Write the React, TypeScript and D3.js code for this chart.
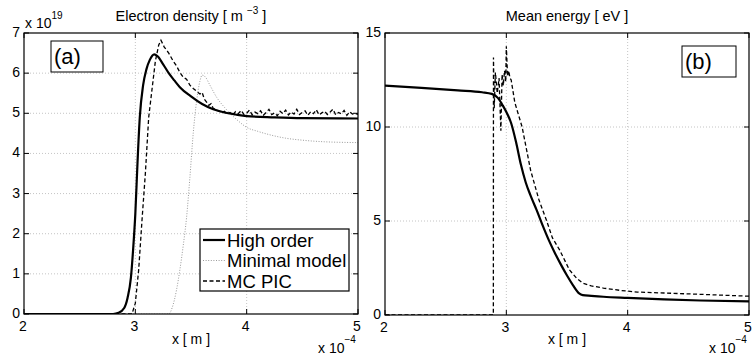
import * as d3 from 'd3';

type Pt = [number, number];

// ---- panel (a): electron density, units of 1e19 m^-3, x in 1e-4 m
const densHigh: Pt[] = [
  [2, 0], [2.8, 0], [2.85, 0.03], [2.9, 0.15], [2.93, 0.4], [2.96, 0.9], [2.98, 1.6],
  [3.0, 2.5], [3.02, 3.8], [3.04, 4.9], [3.07, 5.7], [3.1, 6.1], [3.13, 6.33], [3.17, 6.47],
  [3.2, 6.42], [3.25, 6.22], [3.3, 6.0], [3.35, 5.82], [3.4, 5.65], [3.5, 5.42], [3.6, 5.23],
  [3.7, 5.1], [3.8, 5.02], [3.9, 4.97], [4.0, 4.93], [4.25, 4.9], [4.5, 4.88], [5, 4.87],
];

const densMinimal: Pt[] = [
  [2, 0], [3.3, 0], [3.33, 0.15], [3.37, 0.6], [3.4, 1.1], [3.43, 1.7], [3.46, 2.4],
  [3.49, 3.4], [3.52, 4.5], [3.55, 5.3], [3.58, 5.8], [3.6, 5.95], [3.63, 5.9], [3.67, 5.7],
  [3.73, 5.4], [3.8, 5.15], [3.85, 5.0], [3.92, 4.82], [4.0, 4.65], [4.1, 4.55], [4.2, 4.47],
  [4.35, 4.38], [4.5, 4.33], [4.7, 4.29], [5, 4.27],
];

const densPic: Pt[] = [
  [2, 0], [2.97, 0], [3.0, 0.27], [3.03, 1.1], [3.06, 2.34], [3.09, 3.5], [3.12, 4.9],
  [3.15, 5.6], [3.18, 6.3], [3.21, 6.7], [3.23, 6.82], [3.26, 6.65], [3.3, 6.5], [3.34, 6.3],
  [3.37, 6.18], [3.4, 6.02], [3.43, 5.9], [3.46, 5.85], [3.49, 5.7], [3.52, 5.62], [3.55, 5.55],
  [3.58, 5.48], [3.6, 5.52], [3.62, 5.35], [3.64, 5.28], [3.66, 5.2], [3.68, 5.24], [3.7, 5.12],
  [3.72, 5.1], [3.75, 5.05], [3.78, 5.02],
  [3.8, 5.05], [3.825, 4.98], [3.85, 5.02], [3.875, 4.96], [3.9, 5.04], [3.925, 4.99],
  [3.95, 5.07], [3.975, 4.97], [4.0, 5.0], [4.025, 5.08], [4.05, 4.96], [4.075, 5.03],
  [4.1, 4.99], [4.125, 5.06], [4.15, 4.95], [4.175, 5.02], [4.2, 5.1], [4.225, 4.97],
  [4.25, 5.01], [4.275, 4.94], [4.3, 5.05], [4.325, 4.99], [4.35, 5.08], [4.375, 4.96],
  [4.4, 5.03], [4.425, 4.98], [4.45, 5.1], [4.475, 4.97], [4.5, 5.02], [4.525, 5.06],
  [4.55, 4.95], [4.575, 5.04], [4.6, 4.99], [4.625, 5.09], [4.65, 4.96], [4.675, 5.01],
  [4.7, 5.05], [4.725, 4.97], [4.75, 5.03], [4.775, 5.1], [4.8, 4.96], [4.825, 5.02],
  [4.85, 4.99], [4.875, 5.07], [4.9, 4.95], [4.925, 5.04], [4.95, 4.98], [4.975, 5.0],
  [5.0, 4.97],
];

// ---- panel (b): mean energy, eV
const energyHigh: Pt[] = [
  [2, 12.2], [2.3, 12.08], [2.6, 11.95], [2.8, 11.85], [2.88, 11.76], [2.93, 11.55],
  [2.97, 11.15], [3.0, 10.8], [3.04, 10.2], [3.08, 9.2], [3.12, 8.0], [3.16, 7.05], [3.2, 6.35],
  [3.25, 5.58], [3.3, 4.75], [3.35, 3.98], [3.4, 3.3], [3.45, 2.68], [3.5, 2.1], [3.55, 1.58],
  [3.6, 1.15], [3.63, 1.06], [3.7, 1.02], [3.8, 0.97], [4.0, 0.91], [4.3, 0.83], [4.6, 0.77],
  [5, 0.72],
];

const energyPic: Pt[] = [
  [2, 0], [2.893, 0], [2.894, 13.7], [2.9, 11.0], [2.91, 12.9], [2.925, 11.8], [2.94, 12.6],
  [2.955, 9.8], [2.965, 12.8], [2.975, 12.2], [2.985, 13.0], [2.995, 12.4], [3.0, 14.3],
  [3.01, 12.7], [3.02, 13.0], [3.03, 12.6], [3.04, 12.5], [3.07, 11.3], [3.13, 10.0],
  [3.2, 7.7], [3.27, 6.1], [3.33, 5.05], [3.38, 4.1], [3.44, 3.45], [3.52, 2.4],
  [3.58, 1.95], [3.63, 1.7], [3.7, 1.55], [3.8, 1.43], [3.95, 1.3], [4.08, 1.22],
  [4.3, 1.17], [4.6, 1.1], [5, 1.0],
];

const xTicks = [2, 3, 4, 5];
const densTicks = [0, 1, 2, 3, 4, 5, 6, 7];
const energyTicks = [0, 5, 10, 15];
const legendLabels = ['High order', 'Minimal model', 'MC PIC'];

const FONT = '"Liberation Sans", Arial, Helvetica, sans-serif';

type LineStyle = { stroke: string; strokeWidth: number; dash?: string; smooth?: boolean };
const styles: Record<string, LineStyle> = {
  high: { stroke: '#000', strokeWidth: 2.2, smooth: true },
  minimal: { stroke: '#9a9a9a', strokeWidth: 1, dash: '1,1.6', smooth: true },
  pic: { stroke: '#000', strokeWidth: 1.3, dash: '4,2.5' },
};

type Series = { data: Pt[]; style: LineStyle };

function Panel({ id, x0, x1, y0, y1, yMax, yTicks, series, title, exponent, tag }: {
  id: string; x0: number; x1: number; y0: number; y1: number; yMax: number;
  yTicks: number[]; series: Series[]; title: React.ReactNode; exponent?: boolean;
  tag: { x: number; y: number; w: number; h: number; text: string };
}) {
  const x = d3.scaleLinear().domain([2, 5]).range([x0, x1]);
  const y = d3.scaleLinear().domain([0, yMax]).range([y1, y0]);
  const lineOf = (smooth?: boolean) =>
    d3.line<Pt>().x(d => x(d[0])).y(d => y(d[1]))
      .curve(smooth ? d3.curveMonotoneX : d3.curveLinear);
  const tl = 5;
  const cx = (x0 + x1) / 2;
  return (
    <g>
      <defs>
        <clipPath id={id}>
          <rect x={x0} y={y0 - 1} width={x1 - x0} height={y1 - y0 + 1} />
        </clipPath>
      </defs>
      {/* grid */}
      {xTicks.slice(1, -1).map(t => (
        <line key={'gx' + t} x1={x(t)} x2={x(t)} y1={y0} y2={y1}
          stroke="#b5b5b5" strokeWidth={0.8} strokeDasharray="1,2" />
      ))}
      {yTicks.slice(1, -1).map(t => (
        <line key={'gy' + t} x1={x0} x2={x1} y1={y(t)} y2={y(t)}
          stroke="#b5b5b5" strokeWidth={0.8} strokeDasharray="1,2" />
      ))}
      {/* data */}
      <g clipPath={`url(#${id})`}>
        {series.map((s, i) => (
          <path key={i} d={lineOf(s.style.smooth)(s.data) ?? ''} fill="none" stroke={s.style.stroke}
            strokeWidth={s.style.strokeWidth} strokeDasharray={s.style.dash} />
        ))}
      </g>
      {/* ticks, inward on all sides */}
      {xTicks.map(t => (
        <g key={'tx' + t}>
          <line x1={x(t)} x2={x(t)} y1={y1} y2={y1 - tl} stroke="#000" />
          <line x1={x(t)} x2={x(t)} y1={y0} y2={y0 + tl} stroke="#000" />
          <text x={x(t) - 1} y={y1 + 17} textAnchor="middle" fontSize={14}>{t}</text>
        </g>
      ))}
      {yTicks.map(t => (
        <g key={'ty' + t}>
          <line x1={x0} x2={x0 + tl} y1={y(t)} y2={y(t)} stroke="#000" />
          <line x1={x1} x2={x1 - tl} y1={y(t)} y2={y(t)} stroke="#000" />
          <text x={x0 - 4} y={y(t) + 4} textAnchor="end" fontSize={14}>{t}</text>
        </g>
      ))}
      <rect x={x0} y={y0} width={x1 - x0} height={y1 - y0} fill="none" stroke="#000" strokeWidth={1.2} />
      {/* labels */}
      <text x={cx} y={21} textAnchor="middle" fontSize={14.5}>{title}</text>
      <text x={cx} y={344} textAnchor="middle" fontSize={14}>x [ m ]</text>
      <text x={x1 - 40} y={353} fontSize={14}>x 10<tspan dy={-10} fontSize={10}>−4</tspan></text>
      {exponent && (
        <text x={x0 + 1} y={28} fontSize={14}>x 10<tspan dy={-9} fontSize={10}>19</tspan></text>
      )}
      <rect x={tag.x} y={tag.y} width={tag.w} height={tag.h} fill="#fff" stroke="#000" strokeWidth={1} />
      <text x={tag.x + 3} y={tag.y + tag.h - 8} fontSize={22}>{tag.text}</text>
    </g>
  );
}

export default function App() {
  const lg = { x: 200, y: 229, w: 149, h: 62 };
  const legendStyles = [styles.high, styles.minimal, styles.pic];
  return (
    <svg width={754} height={356} style={{ position: 'absolute', left: 0, top: 0, background: '#fff' }}
      fontFamily={FONT}>
      <Panel id="ca" x0={24} x1={358} y0={33} y1={314} yMax={7} yTicks={densTicks}
        series={[
          { data: densMinimal, style: styles.minimal },
          { data: densPic, style: styles.pic },
          { data: densHigh, style: styles.high },
        ]}
        title={<>Electron density [ m <tspan dy={-7} fontSize={10}>−3</tspan><tspan dy={7}> ]</tspan></>}
        exponent tag={{ x: 51, y: 41, w: 52, h: 31, text: '(a)' }} />
      <Panel id="cb" x0={385} x1={749} y0={33} y1={315} yMax={15} yTicks={energyTicks}
        series={[
          { data: energyPic, style: styles.pic },
          { data: energyHigh, style: styles.high },
        ]}
        title="Mean energy [ eV ]"
        tag={{ x: 682, y: 46, w: 54, h: 31, text: '(b)' }} />
      {/* legend for panel (a) */}
      <g>
        <rect x={lg.x} y={lg.y} width={lg.w} height={lg.h} fill="#fff" stroke="#000" strokeWidth={1.2} />
        {legendLabels.map((name, i) => {
          const cy = lg.y + 11 + i * 20.5;
          const s = legendStyles[i];
          return (
            <g key={name}>
              <line x1={lg.x + 3} x2={lg.x + 25} y1={cy} y2={cy} stroke={s.stroke}
                strokeWidth={s.strokeWidth} strokeDasharray={s.dash} />
              <text x={lg.x + 27} y={cy + 6.5} fontSize={18.5}>{name}</text>
            </g>
          );
        })}
      </g>
    </svg>
  );
}
